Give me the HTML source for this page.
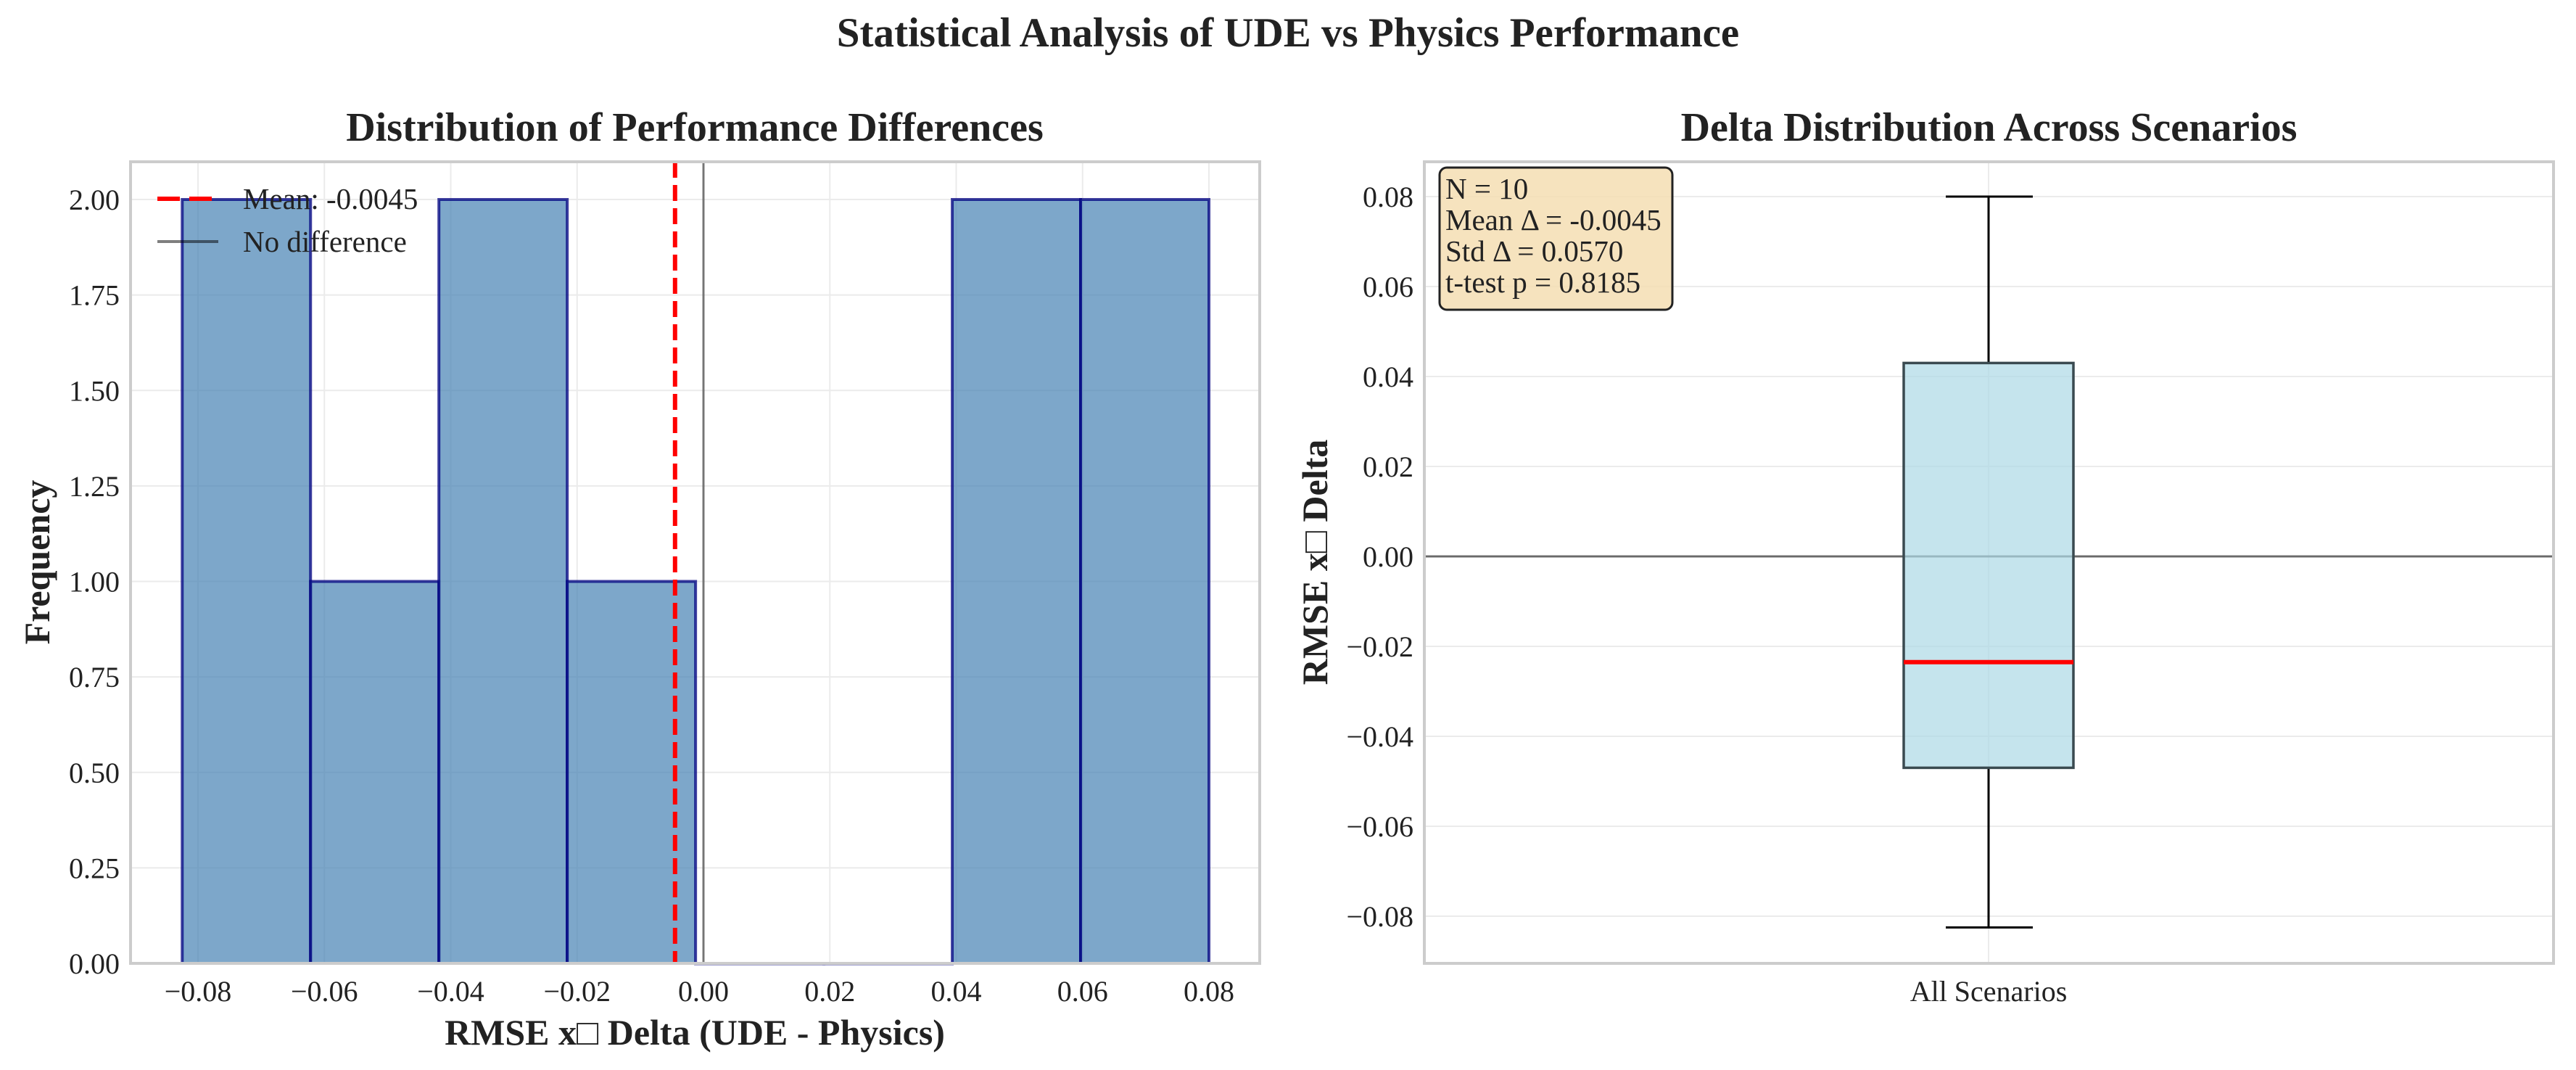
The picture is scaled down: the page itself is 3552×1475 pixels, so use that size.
<!DOCTYPE html>
<html><head><meta charset="utf-8"><style>
html,body{margin:0;padding:0;background:#fff;}
svg{display:block;font-family:"Liberation Serif","DejaVu Serif",serif;}
</style></head><body>
<svg id="c" width="3552" height="1475" viewBox="0 0 3552 1475" xmlns="http://www.w3.org/2000/svg">
<text x="1776" y="64" text-anchor="middle" font-size="57" font-weight="bold" fill="#222">Statistical Analysis of UDE vs Physics Performance</text>
<g id="left"></g>
<g id="right"></g>
</svg>
<script>
// Histogram data
const binStart = -0.0825;
const binWidth = 0.020313;
const binCounts = [2, 1, 2, 1, 0, 0, 2, 2];
const meanDelta = -0.0045;
const xTicks = [-0.08, -0.06, -0.04, -0.02, 0.00, 0.02, 0.04, 0.06, 0.08];
const xTickLabels = ["\u22120.08","\u22120.06","\u22120.04","\u22120.02","0.00","0.02","0.04","0.06","0.08"];
const yTicksL = [0, 0.25, 0.5, 0.75, 1.0, 1.25, 1.5, 1.75, 2.0];
const yTickLabelsL = ["0.00","0.25","0.50","0.75","1.00","1.25","1.50","1.75","2.00"];
// Box plot data
const boxStats = {whiskLo: -0.0825, q1: -0.047, median: -0.0235, q3: 0.043, whiskHi: 0.080};
const yTicksR = [-0.08, -0.06, -0.04, -0.02, 0.00, 0.02, 0.04, 0.06, 0.08];
const yTickLabelsR = ["\u22120.08","\u22120.06","\u22120.04","\u22120.02","0.00","0.02","0.04","0.06","0.08"];
const statLines = ["N = 10", "Mean \u0394 = -0.0045", "Std \u0394 = 0.0570", "t-test p = 0.8185"];

const NS = "http://www.w3.org/2000/svg";
function mk(parent, tag, attrs, text){
  const e = document.createElementNS(NS, tag);
  for (const k in attrs) e.setAttribute(k, attrs[k]);
  if (text !== undefined) e.textContent = text;
  parent.appendChild(e);
  return e;
}
const TICK = 40;

// ---------- Left panel ----------
const L = document.getElementById('left');
const lx0 = 180, lx1 = 1737, ly0 = 223, ly1 = 1328;
const lxScale = v => 970 + v * 8712;
const lyScale = v => 1328 - v * 526.5;

let t = mk(L, 'text', {x: 958, y: 194, 'text-anchor': 'middle', 'font-size': 56, 'font-weight': 'bold', fill: '#222'}, 'Distribution of Performance Differences');



xTicks.forEach((v, i) => {
  const g = mk(L, 'line', {x1: lxScale(v), x2: lxScale(v), y1: ly0, y2: ly1, stroke: '#ebebeb', 'stroke-width': 2});
  
  
  const tl = mk(L, 'text', {x: lxScale(v), y: 1380, 'text-anchor': 'middle', 'font-size': TICK, fill: '#222'}, xTickLabels[i]);
  
  
});
yTicksL.forEach((v, i) => {
  const g = mk(L, 'line', {x1: lx0, x2: lx1, y1: lyScale(v), y2: lyScale(v), stroke: '#ebebeb', 'stroke-width': 2});
  
  
  const tl = mk(L, 'text', {x: 165, y: lyScale(v) + 14, 'text-anchor': 'end', 'font-size': TICK, fill: '#222'}, yTickLabelsL[i]);
  
  
});

binCounts.forEach((c, i) => {
  const a = binStart + i * binWidth, b = a + binWidth;
  const x = lxScale(a), w = lxScale(b) - x, y = lyScale(c), h = lyScale(0) - y;
  const r = mk(L, 'rect', {x: x, y: y, width: w, height: Math.max(h, 0.5), fill: 'rgba(70,130,180,0.7)', stroke: 'rgba(0,0,128,0.75)', 'stroke-width': 4});
  
  
});

let ml = mk(L, 'line', {x1: lxScale(meanDelta), x2: lxScale(meanDelta), y1: ly0, y2: ly1, stroke: '#ff0000', 'stroke-width': 6, 'stroke-dasharray': '22 10'});


let zl = mk(L, 'line', {x1: lxScale(0), x2: lxScale(0), y1: ly0, y2: ly1, stroke: 'rgba(0,0,0,0.5)', 'stroke-width': 3});



let fr = mk(L, 'rect', {x: lx0, y: ly0, width: lx1 - lx0, height: ly1 - ly0, fill: 'none', stroke: '#cccccc', 'stroke-width': 4});



// legend
let lg = mk(L, 'g', {});


let l1 = mk(lg, 'line', {x1: 217, x2: 292, y1: 274, y2: 274, stroke: '#ff0000', 'stroke-width': 6, 'stroke-dasharray': '31 13'});


let lt1 = mk(lg, 'text', {x: 335, y: 288, 'font-size': 41, fill: '#222'}, 'Mean: -0.0045');


let l2 = mk(lg, 'line', {x1: 217, x2: 301, y1: 333, y2: 333, stroke: 'rgba(0,0,0,0.5)', 'stroke-width': 4});


let lt2 = mk(lg, 'text', {x: 335, y: 347, 'font-size': 41, fill: '#222'}, 'No difference');



let xl = mk(L, 'text', {x: 958, y: 1440, 'text-anchor': 'middle', 'font-size': 50, 'font-weight': 'bold', fill: '#222'}, 'RMSE x\u25A1 Delta (UDE - Physics)');


let yl = mk(L, 'text', {x: 0, y: 0, 'text-anchor': 'middle', 'font-size': 50, 'font-weight': 'bold', fill: '#222', transform: 'translate(68,775) rotate(-90)'}, 'Frequency');



// ---------- Right panel ----------
const R = document.getElementById('right');
const rx0 = 1964, rx1 = 3521, ry0 = 223, ry1 = 1328;
const cx = 2742;
const ryScale = v => 767 - v * 6200;

let rt = mk(R, 'text', {x: (rx0 + rx1) / 2, y: 194, 'text-anchor': 'middle', 'font-size': 56, 'font-weight': 'bold', fill: '#222'}, 'Delta Distribution Across Scenarios');



yTicksR.forEach((v, i) => {
  const g = mk(R, 'line', {x1: rx0, x2: rx1, y1: ryScale(v), y2: ryScale(v), stroke: '#ebebeb', 'stroke-width': 2});
  
  
  const tl = mk(R, 'text', {x: 1949, y: ryScale(v) + 14, 'text-anchor': 'end', 'font-size': TICK, fill: '#222'}, yTickLabelsR[i]);
  
  
});
let xg = mk(R, 'line', {x1: cx, x2: cx, y1: ry0, y2: ry1, stroke: '#ebebeb', 'stroke-width': 2});



let zr = mk(R, 'line', {x1: rx0, x2: rx1, y1: ryScale(0), y2: ryScale(0), stroke: 'rgba(0,0,0,0.55)', 'stroke-width': 3});



let wu = mk(R, 'line', {x1: cx, x2: cx, y1: ryScale(boxStats.whiskHi), y2: ryScale(boxStats.q3), stroke: '#000', 'stroke-width': 3});


let wl = mk(R, 'line', {x1: cx, x2: cx, y1: ryScale(boxStats.q1), y2: ryScale(boxStats.whiskLo), stroke: '#000', 'stroke-width': 3});


let cu = mk(R, 'line', {x1: 2683, x2: 2803, y1: ryScale(boxStats.whiskHi), y2: ryScale(boxStats.whiskHi), stroke: '#000', 'stroke-width': 3});


let cl = mk(R, 'line', {x1: 2683, x2: 2803, y1: ryScale(boxStats.whiskLo), y2: ryScale(boxStats.whiskLo), stroke: '#000', 'stroke-width': 3});



let bx = mk(R, 'rect', {x: 2625, y: ryScale(boxStats.q3), width: 234, height: ryScale(boxStats.q1) - ryScale(boxStats.q3), fill: 'rgba(173,216,230,0.7)', stroke: '#3a4a50', 'stroke-width': 3.5});


let md = mk(R, 'line', {x1: 2625, x2: 2859, y1: ryScale(boxStats.median), y2: ryScale(boxStats.median), stroke: '#ff0000', 'stroke-width': 6});



let fr2 = mk(R, 'rect', {x: rx0, y: ry0, width: rx1 - rx0, height: ry1 - ry0, fill: 'none', stroke: '#cccccc', 'stroke-width': 4});



let sb = mk(R, 'rect', {x: 1985, y: 231, width: 321, height: 196, rx: 10, fill: '#f5deb3', 'fill-opacity': 0.85, stroke: '#222', 'stroke-width': 3});


statLines.forEach((s, i) => {
  const tx = mk(R, 'text', {x: 1993, y: 274 + i * 43, 'font-size': 41, fill: '#222'}, s);
  
  
});

let xr = mk(R, 'text', {x: cx, y: 1380, 'text-anchor': 'middle', 'font-size': TICK, fill: '#222'}, 'All Scenarios');


let yr = mk(R, 'text', {x: 0, y: 0, 'text-anchor': 'middle', 'font-size': 50, 'font-weight': 'bold', fill: '#222', transform: 'translate(1830,775) rotate(-90)'}, 'RMSE x\u25A1 Delta');


</script>
</body></html>
